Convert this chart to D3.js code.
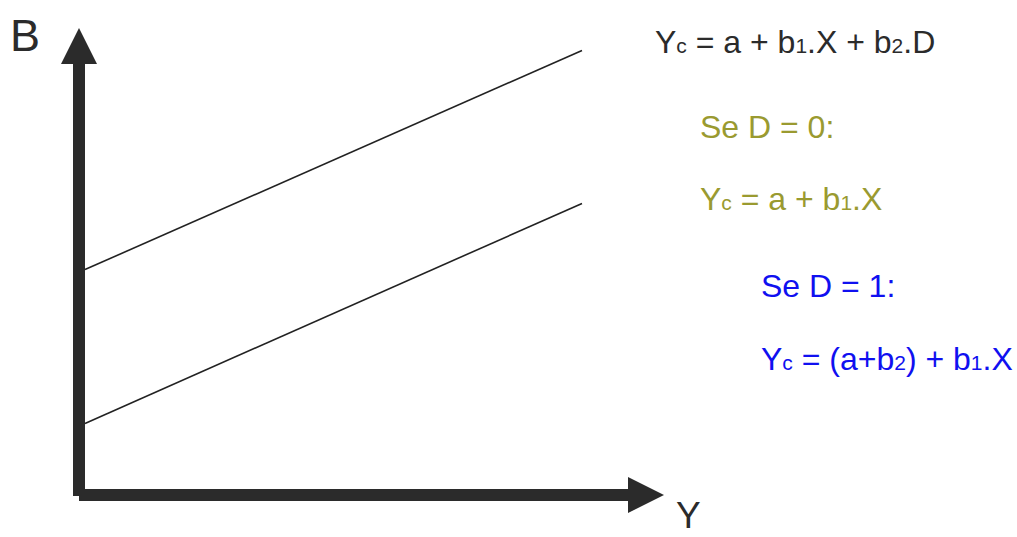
<!DOCTYPE html>
<html>
<head>
<meta charset="utf-8">
<script src="https://cdn.jsdelivr.net/npm/d3@7"></script>
<style>
  body { margin: 0; background: #fff; }
  svg { display: block; }
  text { font-family: "Liberation Sans", Arial, sans-serif; }
</style>
</head>
<body>
<div id="chart"></div>
<script>
// dados das duas retas (D = 0 e D = 1)
var xValues = [0, 10];
var lineD0 = [1.59, 6.48];
var lineD1 = [5.01, 9.88];
var axisLabels = ["B", "Y"];

// equações: cada item é [texto, subscrito?]
var eqMain = [["Y", 0], ["c", 1], [" = a + b", 0], ["1", 1], [".X + b", 0], ["2", 1], [".D", 0]];
var eqD0a = [["Se D = 0:", 0]];
var eqD0b = [["Y", 0], ["c", 1], [" = a + b", 0], ["1", 1], [".X", 0]];
var eqD1a = [["Se D = 1:", 0]];
var eqD1b = [["Y", 0], ["c", 1], [" = (a+b", 0], ["2", 1], [") + b", 0], ["1", 1], [".X", 0]];

var width = 1017, height = 537;
var dark = "#2b2b2b";

var svg = d3.select("#chart").append("svg")
    .attr("width", width)
    .attr("height", height);

var xScale = d3.scaleLinear().domain([0, 10]).range([85, 582]);
var yScale = d3.scaleLinear().domain([0, 10]).range([495, 45]);

// eixos em forma de seta
var ox = 79, oy = 495;
svg.append("rect")
    .attr("x", ox - 6).attr("y", 62)
    .attr("width", 12).attr("height", oy - 62 + 1)
    .attr("fill", dark);
svg.append("rect")
    .attr("x", ox).attr("y", oy - 6)
    .attr("width", 629 - ox).attr("height", 12)
    .attr("fill", dark);
svg.append("path")
    .attr("d", "M" + (ox - 18) + ",64 L" + ox + ",28 L" + (ox + 18) + ",64 Z")
    .attr("fill", dark);
svg.append("path")
    .attr("d", "M628," + (oy - 18) + " L664," + oy + " L628," + (oy + 18) + " Z")
    .attr("fill", dark);

// retas
var line = d3.line()
    .x(function (d, i) { return xScale(xValues[i]); })
    .y(function (d) { return yScale(d); });

[lineD1, lineD0].forEach(function (s) {
    svg.append("path")
        .datum(s)
        .attr("d", line)
        .attr("fill", "none")
        .attr("stroke", "#222")
        .attr("stroke-width", 1.6);
});

// rótulos dos eixos
svg.append("text").attr("x", 10).attr("y", 51)
    .attr("font-size", 45).attr("fill", dark).text(axisLabels[0]);
svg.append("text").attr("x", 676).attr("y", 528)
    .attr("font-size", 37).attr("fill", dark).text(axisLabels[1]);

function equation(parts, x, y, color) {
    var t = svg.append("text")
        .attr("x", x).attr("y", y)
        .attr("font-size", 32)
        .attr("fill", color);
    parts.forEach(function (p) {
        t.append("tspan")
            .attr("font-size", p[1] ? 21 : 32)
            .text(p[0]);
    });
}

equation(eqMain, 655, 53, dark);
equation(eqD0a, 700, 138, "#9a9a30");
equation(eqD0b, 700, 210, "#9a9a30");
equation(eqD1a, 761, 297, "#1010f0");
equation(eqD1b, 761, 370, "#1010f0");
</script>
</body>
</html>
